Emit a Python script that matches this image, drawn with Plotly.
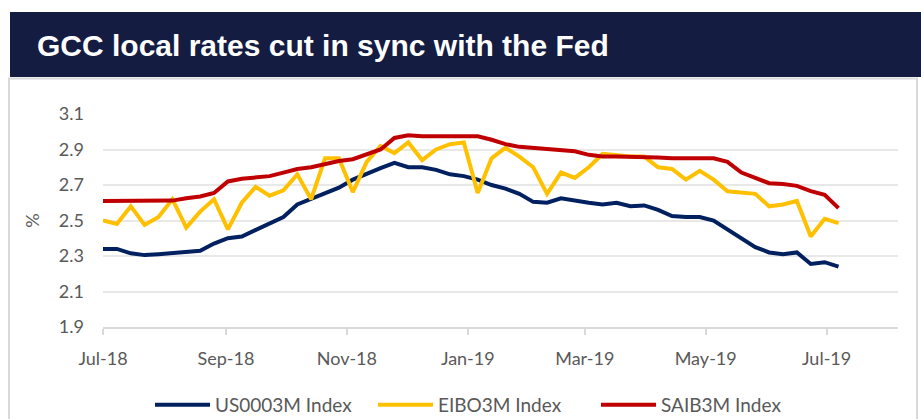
import pandas as pd
import plotly.graph_objects as go

# ---------------- data ----------------
dates = pd.date_range("2018-07-01", periods=54, freq="7D")

us0003m = [2.34, 2.34, 2.315, 2.305, 2.31, 2.315, 2.325, 2.33, 2.37, 2.40,
           2.41, 2.445, 2.485, 2.52, 2.59, 2.62, 2.65, 2.685, 2.73, 2.765,
           2.795, 2.825, 2.80, 2.80, 2.785, 2.76, 2.75, 2.73, 2.70, 2.68,
           2.65, 2.605, 2.60, 2.625, 2.61, 2.60, 2.59, 2.60, 2.58, 2.585,
           2.56, 2.525, 2.52, 2.52, 2.50, 2.45, 2.40, 2.35, 2.32, 2.31,
           2.32, 2.255, 2.265, 2.24]

eibo3m = [2.50, 2.48, 2.58, 2.475, 2.52, 2.62, 2.46, 2.55, 2.62, 2.45,
          2.60, 2.69, 2.64, 2.67, 2.76, 2.62, 2.85, 2.85, 2.66, 2.83,
          2.92, 2.88, 2.94, 2.84, 2.90, 2.93, 2.94, 2.655, 2.85, 2.91,
          2.86, 2.80, 2.65, 2.77, 2.74, 2.80, 2.875, 2.865, 2.86, 2.86,
          2.80, 2.79, 2.73, 2.78, 2.73, 2.665, 2.66, 2.65, 2.58, 2.59,
          2.61, 2.41, 2.51, 2.485]

saib3m = [2.61, 2.61, 2.61, 2.61, 2.61, 2.612, 2.625, 2.635, 2.655, 2.72,
          2.735, 2.74, 2.75, 2.77, 2.79, 2.80, 2.82, 2.835, 2.845, 2.875,
          2.90, 2.965, 2.98, 2.975, 2.975, 2.975, 2.975, 2.975, 2.955, 2.93,
          2.915, 2.91, 2.90, 2.90, 2.89, 2.87, 2.86, 2.86, 2.86, 2.86,
          2.855, 2.85, 2.85, 2.85, 2.85, 2.83, 2.77, 2.74, 2.71, 2.705,
          2.695, 2.665, 2.645, 2.57]

series_names = ["US0003M Index", "EIBO3M Index", "SAIB3M Index"]
series_colors = ["#002060", "#FFC000", "#C00000"]

tick_dates = ["2018-07-01", "2018-09-01", "2018-11-01", "2019-01-01",
              "2019-03-01", "2019-05-01", "2019-07-01"]
tick_labels = ["Jul-18", "Sep-18", "Nov-18", "Jan-19", "Mar-19", "May-19", "Jul-19"]

title_text = "GCC local rates cut in sync with the Fed"

# ---------------- figure ----------------
W, H = 921, 419
L, R, T, B = 103, 23, 114, 92
pw, ph = W - L - R, H - T - B


def px(x):
    return (x - L) / pw


def py(y):
    return (H - B - y) / ph


fig = go.Figure()
for name, vals, col in zip(series_names, [us0003m, eibo3m, saib3m], series_colors):
    fig.add_trace(go.Scatter(x=dates, y=vals, mode="lines", name=name,
                             line=dict(color=col, width=4)))

font_family = "Lato, 'Open Sans', sans-serif"
grey_text = "#595959"

fig.update_layout(
    width=W, height=H,
    margin=dict(l=L, r=R, t=T, b=B, pad=0),
    paper_bgcolor="white", plot_bgcolor="white",
    font=dict(family=font_family, color=grey_text, size=17),
    title=dict(text="<b>" + title_text + "</b>", x=37 / W, xanchor="left",
               xref="container", yref="container", y=1 - 45 / H, yanchor="middle",
               font=dict(family="Liberation Sans, Arial, sans-serif", size=30, color="white")),
    showlegend=True,
    legend=dict(orientation="h", xref="container", yref="container",
                x=150 / W, xanchor="left", y=1 - 405 / H, yanchor="middle",
                font=dict(family=font_family, size=19, color=grey_text),
                itemwidth=55, entrywidth=153, bgcolor="rgba(0,0,0,0)"),
    shapes=[
        dict(type="rect", xref="paper", yref="paper",
             x0=px(10), x1=px(930), y0=py(77), y1=py(12),
             fillcolor="#141C41", line=dict(width=0), layer="above"),
        dict(type="rect", xref="paper", yref="paper",
             x0=px(9), x1=px(917), y0=py(440), y1=py(78.5),
             fillcolor="rgba(0,0,0,0)", line=dict(color="#D9D9D9", width=2), layer="above"),
    ],
)

fig.update_xaxes(
    type="date", range=["2018-07-01", "2019-08-06"],
    tickvals=tick_dates, ticktext=tick_labels,
    showgrid=False, zeroline=False,
    showline=True, linecolor="#D9D9D9", linewidth=2,
    ticks="outside", ticklen=6, tickwidth=1.5, tickcolor="#D9D9D9",
    tickfont=dict(family=font_family, size=18, color=grey_text),
    ticklabelstandoff=8,
)

fig.update_yaxes(
    range=[1.9, 3.1], tick0=1.9, dtick=0.2, tickformat=".1f",
    showgrid=True, gridcolor="#E8E8E8", gridwidth=1.5,
    zeroline=False, showline=False, ticks="",
    tickfont=dict(family=font_family, size=18, color=grey_text),
    ticklabelstandoff=18,
    title=dict(text="%", font=dict(family=font_family, size=18, color=grey_text), standoff=14),
)

fig.write_html("out.html")
